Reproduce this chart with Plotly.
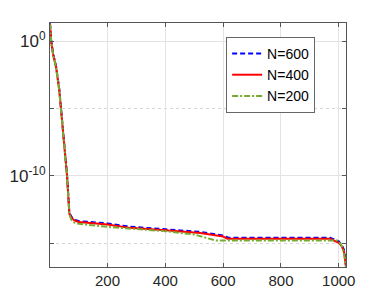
import plotly.graph_objects as go

# Data
x600 = [1, 5, 12, 22, 33, 42, 54, 60, 68, 75, 85, 100, 200, 278, 400, 521, 600, 618, 700, 800, 900, 970, 1000, 1010, 1018, 1023, 1025]
y600 = [2.2e1, 1.2e0, 1.2e-1, 1.4e-2, 3.0e-4, 3.0e-6, 5.5e-9, 1.2e-10, 1.9e-13, 9.5e-14, 5.6e-14, 4.5e-14, 3.0e-14, 1.7e-14, 1.1e-14, 7.0e-15, 3.8e-15, 2.6e-15, 2.6e-15, 2.6e-15, 2.6e-15, 2.6e-15, 1.4e-15, 8.0e-16, 3.3e-16, 8.0e-17, 2.0e-17]

x400 = [1, 5, 12, 22, 33, 42, 54, 60, 68, 75, 85, 100, 200, 278, 400, 521, 600, 615, 700, 800, 900, 970, 1000, 1010, 1018, 1023, 1025]
y400 = [2.0e1, 1.0e0, 1.0e-1, 1.26e-2, 2.5e-4, 2.5e-6, 5.0e-9, 1.0e-10, 1.6e-13, 7.9e-14, 5.0e-14, 3.8e-14, 2.5e-14, 1.4e-14, 9.5e-15, 5.9e-15, 3.2e-15, 2.15e-15, 2.15e-15, 2.15e-15, 2.15e-15, 2.15e-15, 1.1e-15, 6.3e-16, 2.5e-16, 6.3e-17, 1.8e-17]

x200 = [1, 5, 12, 22, 33, 42, 54, 60, 68, 75, 85, 100, 200, 300, 400, 500, 560, 575, 700, 800, 900, 995, 1005, 1012, 1018, 1023, 1025]
y200 = [1.8e1, 0.9e0, 0.9e-1, 1.1e-2, 2.2e-4, 2.2e-6, 4.5e-9, 0.9e-10, 1.3e-13, 5.6e-14, 3.5e-14, 2.8e-14, 1.66e-14, 1.1e-14, 7.9e-15, 4.5e-15, 2.0e-15, 1.6e-15, 1.6e-15, 1.6e-15, 1.6e-15, 1.6e-15, 1.0e-15, 5.0e-16, 2.0e-16, 5.0e-17, 1.8e-17]

names = ["N=600", "N=400", "N=200"]
xticks = [200, 400, 600, 800, 1000]
ymajor = [1e0, 1e-10]
ymajor_text = ["10<sup>0</sup>", "10<sup>-10</sup>"]
yminor = [1e-5, 1e-15]

fig = go.Figure()
fig.add_trace(go.Scatter(x=x600, y=y600, name=names[0], mode="lines",
                         line=dict(color="#0000FF", width=2, dash="5px,3px")))
fig.add_trace(go.Scatter(x=x400, y=y400, name=names[1], mode="lines",
                         line=dict(color="#FF0000", width=2)))
fig.add_trace(go.Scatter(x=x200, y=y200, name=names[2], mode="lines",
                         line=dict(color="#77AC30", width=2, dash="6px,2px,2px,2px")))

axis_col = "#555555"
fig.update_layout(
    width=382, height=301,
    margin=dict(l=41.5, r=44, t=15, b=42),
    paper_bgcolor="white", plot_bgcolor="white",
    font=dict(family="Liberation Sans, Arial, sans-serif", size=15, color="#262626"),
    showlegend=True,
    legend=dict(x=0.595, y=0.943, xanchor="left", yanchor="top",
                bgcolor="white", bordercolor="#666666", borderwidth=1,
                font=dict(size=14, color="#000000"), tracegroupgap=0),
    xaxis=dict(range=[1, 1025], tickmode="array", tickvals=xticks, automargin=False,
               ticks="inside", ticklen=4, tickcolor=axis_col,
               showline=True, linecolor=axis_col, linewidth=1, mirror="ticks",
               showgrid=True, gridcolor="#E3E3E3", gridwidth=1, zeroline=False),
    yaxis=dict(type="log", range=[-16.76, 1.36], tickmode="array", automargin=False,
               tickvals=ymajor, ticktext=ymajor_text, tickfont=dict(size=17),
               ticks="inside", ticklen=4, tickcolor=axis_col,
               showline=True, linecolor=axis_col, linewidth=1, mirror="ticks",
               showgrid=True, gridcolor="#E3E3E3", gridwidth=1, zeroline=False,
               minor=dict(tickmode="array", tickvals=yminor, ticks="inside",
                          ticklen=4, tickcolor=axis_col, showgrid=True,
                          gridcolor="#D5D5D5", griddash="dot", gridwidth=1)),
)

fig.write_html("out.html")
